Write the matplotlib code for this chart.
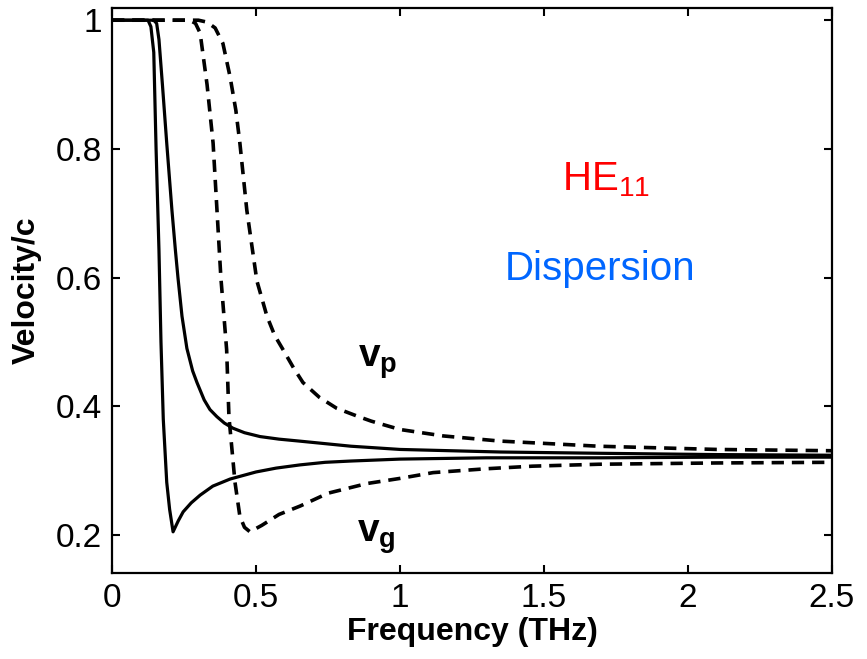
import matplotlib
matplotlib.use("Agg")
import matplotlib.pyplot as plt

plt.rcParams['mathtext.fontset'] = 'custom'
plt.rcParams['mathtext.rm'] = 'Liberation Sans'
plt.rcParams['mathtext.bf'] = 'Liberation Sans:bold'

# solid pair (thin fiber) and dashed pair (thick fiber)
vp_solid_x = [0, 0.145, 0.155, 0.163, 0.175, 0.19, 0.208, 0.22, 0.229, 0.243, 0.26, 0.28,
              0.295, 0.32, 0.34, 0.364, 0.39, 0.42, 0.46, 0.514, 0.58, 0.65, 0.74, 0.83,
              1.0, 1.35, 1.7, 2.1, 2.5]
vp_solid_y = [1, 1, 0.995, 0.97, 0.9, 0.809, 0.705, 0.643, 0.60, 0.54, 0.49, 0.455,
              0.437, 0.41, 0.395, 0.384, 0.374, 0.366, 0.359, 0.353, 0.349, 0.346, 0.342, 0.338,
              0.333, 0.329, 0.327, 0.325, 0.324]

vg_solid_x = [0, 0.125, 0.135, 0.145, 0.153, 0.163, 0.17, 0.178, 0.19, 0.2, 0.212, 0.23,
              0.247, 0.275, 0.306, 0.35, 0.41, 0.5, 0.57, 0.653, 0.74, 0.83, 1.0, 1.3,
              1.7, 2.1, 2.5]
vg_solid_y = [1, 1, 0.99, 0.95, 0.80, 0.643, 0.50, 0.38, 0.282, 0.24, 0.205, 0.222,
              0.236, 0.25, 0.262, 0.276, 0.287, 0.298, 0.304, 0.309, 0.313, 0.315, 0.318, 0.32,
              0.32, 0.321, 0.321]

vp_dash_x = [0, 0.3, 0.33, 0.358, 0.385, 0.41, 0.43, 0.444, 0.468, 0.503, 0.538, 0.565,
             0.594, 0.63, 0.663, 0.72, 0.78, 0.85, 0.9, 1.0, 1.15, 1.347, 1.69, 2.1, 2.5]
vp_dash_y = [1, 1, 0.997, 0.988, 0.964, 0.912, 0.86, 0.809, 0.705, 0.595, 0.54, 0.51,
             0.488, 0.46, 0.437, 0.414, 0.397, 0.385, 0.377, 0.364, 0.354, 0.346, 0.338, 0.333, 0.331]

vg_dash_x = [0, 0.27, 0.29, 0.306, 0.33, 0.351, 0.378, 0.398, 0.406, 0.427, 0.444, 0.46,
             0.479, 0.52, 0.58, 0.653, 0.75, 0.885, 1.0, 1.115, 1.3, 1.46, 1.69, 2.1, 2.5]
vg_dash_y = [1, 1, 0.995, 0.98, 0.90, 0.809, 0.60, 0.488, 0.384, 0.282, 0.229, 0.212,
             0.205, 0.215, 0.232, 0.245, 0.265, 0.28, 0.288, 0.297, 0.303, 0.307, 0.31, 0.312, 0.313]

xticks = [0, 0.5, 1, 1.5, 2, 2.5]
xticklabels = ['0', '0.5', '1', '1.5', '2', '2.5']
yticks = [0.2, 0.4, 0.6, 0.8, 1.0]
yticklabels = ['0.2', '0.4', '0.6', '0.8', '1']

font = 'Liberation Sans'

fig = plt.figure(figsize=(8.67, 6.59), dpi=100)
ax = fig.add_axes([0.1292, 0.1305, 0.8304, 0.8574])

ax.plot(vp_solid_x, vp_solid_y, color='black', lw=2.3)
ax.plot(vg_solid_x, vg_solid_y, color='black', lw=2.3)
ax.plot(vp_dash_x, vp_dash_y, color='black', lw=2.6, dashes=(3.4, 2.2))
ax.plot(vg_dash_x, vg_dash_y, color='black', lw=2.6, dashes=(3.4, 2.2))

ax.set_xlim(0, 2.5)
ax.set_ylim(0.141, 1.019)
ax.set_xticks(xticks)
ax.set_xticklabels(xticklabels, family=font, fontsize=24)
ax.set_yticks(yticks)
ax.set_yticklabels(yticklabels, family=font, fontsize=24)
ax.tick_params(direction='in', length=6, width=1.5, top=True, right=True, pad=7)
for s in ax.spines.values():
    s.set_linewidth(1.6)

ax.set_xlabel('Frequency (THz)', family=font, fontsize=23, fontweight='bold', labelpad=2)
ax.set_ylabel('Velocity/c', family=font, fontsize=23, fontweight='bold', labelpad=10)

ax.text(1.5625, 0.736, r'HE$_{11}$', color='#ff0000', fontsize=29,
        family='Liberation Sans', ha='left', va='baseline')
ax.text(1.694, 0.597, 'Dispersion', color='#0066ff', fontsize=29,
        family='Liberation Sans', ha='center', va='baseline')
ax.text(0.854, 0.462, r'$\mathbf{v}_{\mathbf{p}}$', fontsize=28, ha='left', va='baseline')
ax.text(0.85, 0.189, r'$\mathbf{v}_{\mathbf{g}}$', fontsize=28, ha='left', va='baseline')

fig.savefig('out.png', dpi=100)
